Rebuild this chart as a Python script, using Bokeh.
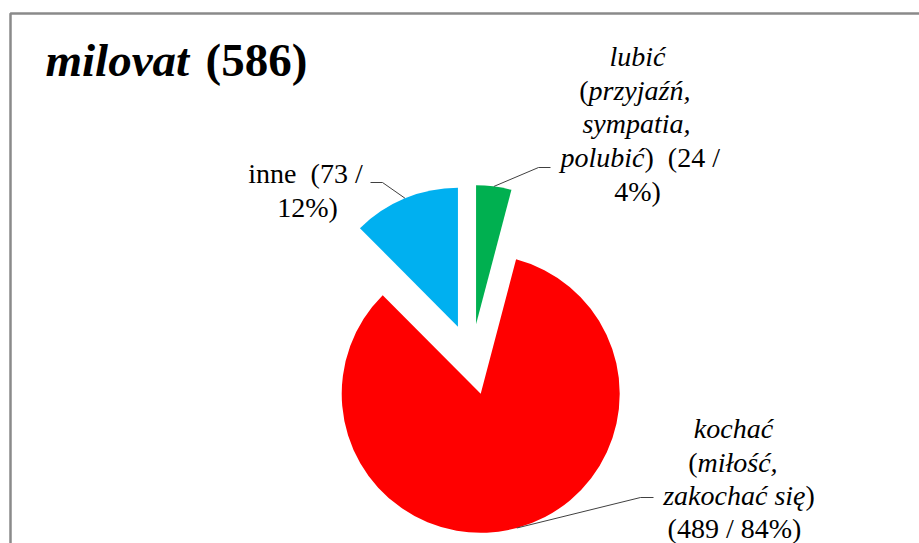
import math
from bokeh.plotting import figure
from bokeh.models import Range1d
from bokeh.core.properties import value
from bokeh.embed import file_html
from bokeh.resources import INLINE

# ---- data ----
categories = ["lubić", "kochać", "inne"]
counts = [24, 489, 73]
percents = [4, 84, 12]
colors = ["#00B050", "#FF0000", "#00B0F0"]
title_word = "milovat"

# ---- layout helpers (page pixel -> data) ----
W, H = 919, 543
def X(px):
    return px
def Y(py):
    return H - py

FONT = value("Liberation Serif")
LBL, TTL = 28, 47
MID = 0.3375  # em-box middle above the baseline for this font

p = figure(width=W, height=H, x_range=Range1d(0, W), y_range=Range1d(0, H),
           output_backend="svg", toolbar_location=None, min_border=0,
           x_axis_location=None, y_axis_location=None, outline_line_color=None,
           background_fill_color="white", border_fill_color="white")
p.grid.visible = False

# chart area frame (left and top edges visible)
p.line([X(10), X(10), X(930)], [Y(560), Y(13), Y(13)], line_color="#8a8a8a", line_width=2.5)

# ---- pie ----
CX, CY, R, E = X(471), Y(359), 139, 35.5
total = sum(counts)
cum = 0.0
xs, ys, starts, ends, mids = [], [], [], [], []
for c in counts:
    frac = c / total
    s = math.pi / 2 - 2 * math.pi * cum
    e = math.pi / 2 - 2 * math.pi * (cum + frac)
    m = (s + e) / 2
    xs.append(CX + E * math.cos(m))
    ys.append(CY + E * math.sin(m))
    starts.append(s)
    ends.append(e)
    mids.append(m)
    cum += frac

p.wedge(x=xs, y=ys, radius=R, start_angle=starts, end_angle=ends,
        direction="clock", fill_color=colors, line_color=None)

# ---- leader lines (from label elbow to slice arc midpoint) ----
label_ends = [(550, 167), (653, 497), (370, 182)]
elbows = [(538, 167), (640, 497), (382, 182)]
lx, ly = [], []
for i in range(len(counts)):
    ax = xs[i] + R * math.cos(mids[i])
    ay = ys[i] + R * math.sin(mids[i])
    lx.append([X(label_ends[i][0]), X(elbows[i][0]), ax])
    ly.append([Y(label_ends[i][1]), Y(elbows[i][1]), ay])
p.multi_line(lx, ly, line_color="#404040", line_width=1)

# ---- labels (x, baseline y in page pixels) ----
segs = [
    # lubić
    (categories[0], 637, 65, "center", "italic"),
    ("(", 588, 99, "right", "normal"),
    ("przyjaźń,", 588, 99, "left", "italic"),
    ("sympatia,", 636, 132, "center", "italic"),
    ("polubić", 644, 166, "right", "italic"),
    (f")\u00a0 ({counts[0]} /", 644, 166, "left", "normal"),
    (f"{percents[0]}%)", 637, 200, "center", "normal"),
    # kochać
    (categories[1], 733, 437, "center", "italic"),
    ("(", 697, 471, "right", "normal"),
    ("miłość,", 697, 471, "left", "italic"),
    ("zakochać się", 805, 504, "right", "italic"),
    (")", 805, 504, "left", "normal"),
    (f"({counts[1]} / {percents[1]}%)", 734, 537, "center", "normal"),
    # inne
    (f"{categories[2]}\u00a0 ({counts[2]} /", 305, 182, "center", "normal"),
    (f"{percents[2]}%)", 307, 216, "center", "normal"),
]
for t, px, py, al, st in segs:
    p.text(x=[X(px)], y=[Y(py - MID * LBL)], text=[t], text_font=FONT,
           text_font_size=f"{LBL}px", text_font_style=st, text_align=al,
           text_baseline="middle", text_color="#000000")

# ---- title ----
p.text(x=[X(45)], y=[Y(75 - MID * TTL)], text=[title_word], text_font=FONT,
       text_font_size=f"{TTL}px", text_font_style="bold italic", text_align="left",
       text_baseline="middle", text_color="#000000")
p.text(x=[X(205)], y=[Y(75 - MID * TTL)], text=[f"({total})"], text_font=FONT,
       text_font_size=f"{TTL}px", text_font_style="bold", text_align="left",
       text_baseline="middle", text_color="#000000")

open("out.html", "w").write(file_html(p, INLINE))
